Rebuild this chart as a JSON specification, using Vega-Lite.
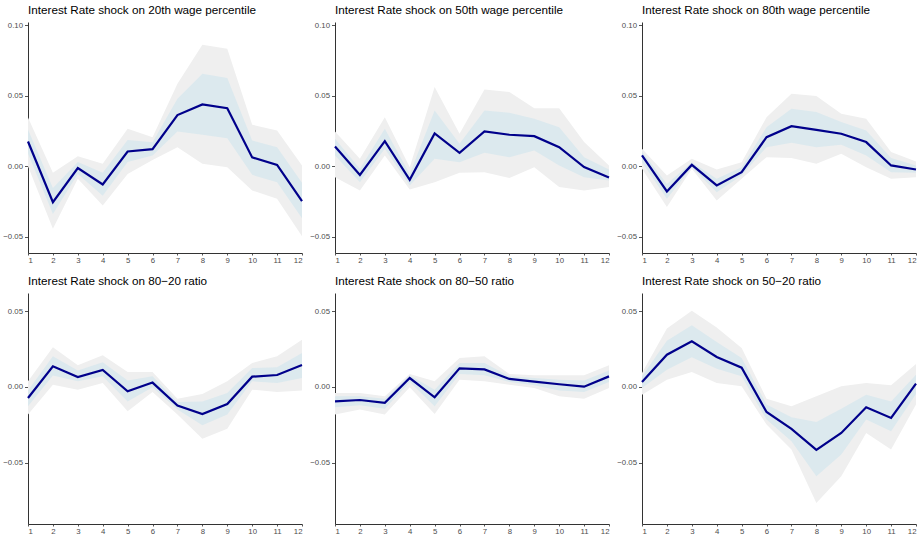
{
  "$schema": "https://vega.github.io/schema/vega-lite/v6.json",
  "background": "white",
  "padding": {"left": 2, "top": 5, "right": 0, "bottom": 0},
  "datasets": {
    "irf": [
      {"row": 1, "panel": "Interest Rate shock on 20th wage percentile", "h": 1, "irf": 0.0175, "lo_o": 0.0000, "hi_o": 0.0345, "lo_i": 0.0090, "hi_i": 0.0260},
      {"row": 1, "panel": "Interest Rate shock on 20th wage percentile", "h": 2, "irf": -0.0256, "lo_o": -0.0445, "hi_o": -0.0047, "lo_i": -0.0340, "hi_i": -0.0156},
      {"row": 1, "panel": "Interest Rate shock on 20th wage percentile", "h": 3, "irf": -0.0014, "lo_o": -0.0090, "hi_o": 0.0071, "lo_i": -0.0055, "hi_i": 0.0030},
      {"row": 1, "panel": "Interest Rate shock on 20th wage percentile", "h": 4, "irf": -0.0130, "lo_o": -0.0280, "hi_o": 0.0017, "lo_i": -0.0210, "hi_i": -0.0047},
      {"row": 1, "panel": "Interest Rate shock on 20th wage percentile", "h": 5, "irf": 0.0104, "lo_o": -0.0055, "hi_o": 0.0265, "lo_i": 0.0030, "hi_i": 0.0185},
      {"row": 1, "panel": "Interest Rate shock on 20th wage percentile", "h": 6, "irf": 0.0121, "lo_o": 0.0043, "hi_o": 0.0206, "lo_i": 0.0076, "hi_i": 0.0170},
      {"row": 1, "panel": "Interest Rate shock on 20th wage percentile", "h": 7, "irf": 0.0363, "lo_o": 0.0135, "hi_o": 0.0585, "lo_i": 0.0246, "hi_i": 0.0479},
      {"row": 1, "panel": "Interest Rate shock on 20th wage percentile", "h": 8, "irf": 0.0438, "lo_o": 0.0017, "hi_o": 0.0863, "lo_i": 0.0223, "hi_i": 0.0656},
      {"row": 1, "panel": "Interest Rate shock on 20th wage percentile", "h": 9, "irf": 0.0412, "lo_o": -0.0007, "hi_o": 0.0834, "lo_i": 0.0199, "hi_i": 0.0626},
      {"row": 1, "panel": "Interest Rate shock on 20th wage percentile", "h": 10, "irf": 0.0062, "lo_o": -0.0173, "hi_o": 0.0294, "lo_i": -0.0062, "hi_i": 0.0182},
      {"row": 1, "panel": "Interest Rate shock on 20th wage percentile", "h": 11, "irf": 0.0009, "lo_o": -0.0232, "hi_o": 0.0254, "lo_i": -0.0114, "hi_i": 0.0135},
      {"row": 1, "panel": "Interest Rate shock on 20th wage percentile", "h": 12, "irf": -0.0249, "lo_o": -0.0498, "hi_o": 0.0005, "lo_i": -0.0370, "hi_i": -0.0118},

      {"row": 1, "panel": "Interest Rate shock on 50th wage percentile", "h": 1, "irf": 0.0140, "lo_o": -0.0078, "hi_o": 0.0246, "lo_i": 0.0076, "hi_i": 0.0194},
      {"row": 1, "panel": "Interest Rate shock on 50th wage percentile", "h": 2, "irf": -0.0062, "lo_o": -0.0173, "hi_o": 0.0052, "lo_i": -0.0114, "hi_i": -0.0019},
      {"row": 1, "panel": "Interest Rate shock on 50th wage percentile", "h": 3, "irf": 0.0178, "lo_o": 0.0076, "hi_o": 0.0348, "lo_i": 0.0123, "hi_i": 0.0265},
      {"row": 1, "panel": "Interest Rate shock on 50th wage percentile", "h": 4, "irf": -0.0097, "lo_o": -0.0166, "hi_o": -0.0007, "lo_i": -0.0137, "hi_i": -0.0055},
      {"row": 1, "panel": "Interest Rate shock on 50th wage percentile", "h": 5, "irf": 0.0232, "lo_o": -0.0114, "hi_o": 0.0562, "lo_i": 0.0052, "hi_i": 0.0396},
      {"row": 1, "panel": "Interest Rate shock on 50th wage percentile", "h": 6, "irf": 0.0095, "lo_o": -0.0047, "hi_o": 0.0230, "lo_i": 0.0028, "hi_i": 0.0159},
      {"row": 1, "panel": "Interest Rate shock on 50th wage percentile", "h": 7, "irf": 0.0246, "lo_o": -0.0043, "hi_o": 0.0545, "lo_i": 0.0095, "hi_i": 0.0396},
      {"row": 1, "panel": "Interest Rate shock on 50th wage percentile", "h": 8, "irf": 0.0223, "lo_o": -0.0085, "hi_o": 0.0526, "lo_i": 0.0064, "hi_i": 0.0379},
      {"row": 1, "panel": "Interest Rate shock on 50th wage percentile", "h": 9, "irf": 0.0213, "lo_o": -0.0007, "hi_o": 0.0412, "lo_i": 0.0111, "hi_i": 0.0336},
      {"row": 1, "panel": "Interest Rate shock on 50th wage percentile", "h": 10, "irf": 0.0135, "lo_o": -0.0149, "hi_o": 0.0412, "lo_i": 0.0005, "hi_i": 0.0277},
      {"row": 1, "panel": "Interest Rate shock on 50th wage percentile", "h": 11, "irf": -0.0007, "lo_o": -0.0173, "hi_o": 0.0171, "lo_i": -0.0078, "hi_i": 0.0064},
      {"row": 1, "panel": "Interest Rate shock on 50th wage percentile", "h": 12, "irf": -0.0081, "lo_o": -0.0149, "hi_o": 0.0005, "lo_i": -0.0102, "hi_i": -0.0024},

      {"row": 1, "panel": "Interest Rate shock on 80th wage percentile", "h": 1, "irf": 0.0076, "lo_o": -0.0019, "hi_o": 0.0123, "lo_i": 0.0028, "hi_i": 0.0104},
      {"row": 1, "panel": "Interest Rate shock on 80th wage percentile", "h": 2, "irf": -0.0180, "lo_o": -0.0291, "hi_o": -0.0066, "lo_i": -0.0232, "hi_i": -0.0126},
      {"row": 1, "panel": "Interest Rate shock on 80th wage percentile", "h": 3, "irf": 0.0009, "lo_o": -0.0019, "hi_o": 0.0052, "lo_i": -0.0007, "hi_i": 0.0028},
      {"row": 1, "panel": "Interest Rate shock on 80th wage percentile", "h": 4, "irf": -0.0137, "lo_o": -0.0244, "hi_o": -0.0024, "lo_i": -0.0185, "hi_i": -0.0090},
      {"row": 1, "panel": "Interest Rate shock on 80th wage percentile", "h": 5, "irf": -0.0043, "lo_o": -0.0090, "hi_o": 0.0028, "lo_i": -0.0066, "hi_i": -0.0007},
      {"row": 1, "panel": "Interest Rate shock on 80th wage percentile", "h": 6, "irf": 0.0206, "lo_o": 0.0064, "hi_o": 0.0348, "lo_i": 0.0135, "hi_i": 0.0277},
      {"row": 1, "panel": "Interest Rate shock on 80th wage percentile", "h": 7, "irf": 0.0284, "lo_o": 0.0057, "hi_o": 0.0514, "lo_i": 0.0166, "hi_i": 0.0408},
      {"row": 1, "panel": "Interest Rate shock on 80th wage percentile", "h": 8, "irf": 0.0258, "lo_o": 0.0017, "hi_o": 0.0498, "lo_i": 0.0135, "hi_i": 0.0384},
      {"row": 1, "panel": "Interest Rate shock on 80th wage percentile", "h": 9, "irf": 0.0230, "lo_o": 0.0088, "hi_o": 0.0372, "lo_i": 0.0152, "hi_i": 0.0313},
      {"row": 1, "panel": "Interest Rate shock on 80th wage percentile", "h": 10, "irf": 0.0171, "lo_o": -0.0007, "hi_o": 0.0336, "lo_i": 0.0076, "hi_i": 0.0254},
      {"row": 1, "panel": "Interest Rate shock on 80th wage percentile", "h": 11, "irf": 0.0005, "lo_o": -0.0090, "hi_o": 0.0100, "lo_i": -0.0043, "hi_i": 0.0057},
      {"row": 1, "panel": "Interest Rate shock on 80th wage percentile", "h": 12, "irf": -0.0024, "lo_o": -0.0078, "hi_o": 0.0033, "lo_i": -0.0047, "hi_i": 0.0005},

      {"row": 2, "panel": "Interest Rate shock on 80−20 ratio", "h": 1, "irf": -0.0073, "lo_o": -0.0182, "hi_o": 0.0037, "lo_i": -0.0127, "hi_i": -0.0024},
      {"row": 2, "panel": "Interest Rate shock on 80−20 ratio", "h": 2, "irf": 0.0136, "lo_o": 0.0015, "hi_o": 0.0262, "lo_i": 0.0075, "hi_i": 0.0202},
      {"row": 2, "panel": "Interest Rate shock on 80−20 ratio", "h": 3, "irf": 0.0066, "lo_o": -0.0018, "hi_o": 0.0143, "lo_i": 0.0037, "hi_i": 0.0108},
      {"row": 2, "panel": "Interest Rate shock on 80−20 ratio", "h": 4, "irf": 0.0112, "lo_o": 0.0026, "hi_o": 0.0209, "lo_i": 0.0070, "hi_i": 0.0163},
      {"row": 2, "panel": "Interest Rate shock on 80−20 ratio", "h": 5, "irf": -0.0029, "lo_o": -0.0160, "hi_o": 0.0099, "lo_i": -0.0095, "hi_i": 0.0042},
      {"row": 2, "panel": "Interest Rate shock on 80−20 ratio", "h": 6, "irf": 0.0029, "lo_o": -0.0033, "hi_o": 0.0099, "lo_i": -0.0002, "hi_i": 0.0070},
      {"row": 2, "panel": "Interest Rate shock on 80−20 ratio", "h": 7, "irf": -0.0123, "lo_o": -0.0182, "hi_o": -0.0077, "lo_i": -0.0149, "hi_i": -0.0099},
      {"row": 2, "panel": "Interest Rate shock on 80−20 ratio", "h": 8, "irf": -0.0178, "lo_o": -0.0341, "hi_o": -0.0046, "lo_i": -0.0253, "hi_i": -0.0095},
      {"row": 2, "panel": "Interest Rate shock on 80−20 ratio", "h": 9, "irf": -0.0112, "lo_o": -0.0275, "hi_o": 0.0037, "lo_i": -0.0182, "hi_i": -0.0040},
      {"row": 2, "panel": "Interest Rate shock on 80−20 ratio", "h": 10, "irf": 0.0068, "lo_o": -0.0018, "hi_o": 0.0158, "lo_i": 0.0037, "hi_i": 0.0125},
      {"row": 2, "panel": "Interest Rate shock on 80−20 ratio", "h": 11, "irf": 0.0079, "lo_o": -0.0033, "hi_o": 0.0202, "lo_i": 0.0026, "hi_i": 0.0130},
      {"row": 2, "panel": "Interest Rate shock on 80−20 ratio", "h": 12, "irf": 0.0145, "lo_o": -0.0024, "hi_o": 0.0312, "lo_i": 0.0059, "hi_i": 0.0224},

      {"row": 2, "panel": "Interest Rate shock on 80−50 ratio", "h": 1, "irf": -0.0095, "lo_o": -0.0182, "hi_o": -0.0040, "lo_i": -0.0134, "hi_i": -0.0062},
      {"row": 2, "panel": "Interest Rate shock on 80−50 ratio", "h": 2, "irf": -0.0086, "lo_o": -0.0149, "hi_o": -0.0040, "lo_i": -0.0121, "hi_i": -0.0062},
      {"row": 2, "panel": "Interest Rate shock on 80−50 ratio", "h": 3, "irf": -0.0105, "lo_o": -0.0182, "hi_o": -0.0062, "lo_i": -0.0143, "hi_i": -0.0077},
      {"row": 2, "panel": "Interest Rate shock on 80−50 ratio", "h": 4, "irf": 0.0059, "lo_o": -0.0002, "hi_o": 0.0086, "lo_i": 0.0033, "hi_i": 0.0077},
      {"row": 2, "panel": "Interest Rate shock on 80−50 ratio", "h": 5, "irf": -0.0068, "lo_o": -0.0178, "hi_o": 0.0037, "lo_i": -0.0127, "hi_i": -0.0018},
      {"row": 2, "panel": "Interest Rate shock on 80−50 ratio", "h": 6, "irf": 0.0123, "lo_o": 0.0048, "hi_o": 0.0191, "lo_i": 0.0086, "hi_i": 0.0158},
      {"row": 2, "panel": "Interest Rate shock on 80−50 ratio", "h": 7, "irf": 0.0116, "lo_o": 0.0037, "hi_o": 0.0202, "lo_i": 0.0077, "hi_i": 0.0158},
      {"row": 2, "panel": "Interest Rate shock on 80−50 ratio", "h": 8, "irf": 0.0053, "lo_o": 0.0015, "hi_o": 0.0086, "lo_i": 0.0033, "hi_i": 0.0070},
      {"row": 2, "panel": "Interest Rate shock on 80−50 ratio", "h": 9, "irf": 0.0035, "lo_o": -0.0007, "hi_o": 0.0077, "lo_i": 0.0011, "hi_i": 0.0059},
      {"row": 2, "panel": "Interest Rate shock on 80−50 ratio", "h": 10, "irf": 0.0018, "lo_o": -0.0062, "hi_o": 0.0077, "lo_i": -0.0024, "hi_i": 0.0048},
      {"row": 2, "panel": "Interest Rate shock on 80−50 ratio", "h": 11, "irf": 0.0002, "lo_o": -0.0077, "hi_o": 0.0077, "lo_i": -0.0033, "hi_i": 0.0042},
      {"row": 2, "panel": "Interest Rate shock on 80−50 ratio", "h": 12, "irf": 0.0070, "lo_o": -0.0007, "hi_o": 0.0143, "lo_i": 0.0033, "hi_i": 0.0108},

      {"row": 2, "panel": "Interest Rate shock on 50−20 ratio", "h": 1, "irf": 0.0033, "lo_o": -0.0051, "hi_o": 0.0092, "lo_i": -0.0007, "hi_i": 0.0070},
      {"row": 2, "panel": "Interest Rate shock on 50−20 ratio", "h": 2, "irf": 0.0213, "lo_o": 0.0048, "hi_o": 0.0385, "lo_i": 0.0114, "hi_i": 0.0305},
      {"row": 2, "panel": "Interest Rate shock on 50−20 ratio", "h": 3, "irf": 0.0301, "lo_o": 0.0099, "hi_o": 0.0503, "lo_i": 0.0196, "hi_i": 0.0407},
      {"row": 2, "panel": "Interest Rate shock on 50−20 ratio", "h": 4, "irf": 0.0198, "lo_o": 0.0026, "hi_o": 0.0393, "lo_i": 0.0121, "hi_i": 0.0297},
      {"row": 2, "panel": "Interest Rate shock on 50−20 ratio", "h": 5, "irf": 0.0127, "lo_o": 0.0004, "hi_o": 0.0257, "lo_i": 0.0070, "hi_i": 0.0191},
      {"row": 2, "panel": "Interest Rate shock on 50−20 ratio", "h": 6, "irf": -0.0165, "lo_o": -0.0248, "hi_o": -0.0077, "lo_i": -0.0215, "hi_i": -0.0116},
      {"row": 2, "panel": "Interest Rate shock on 50−20 ratio", "h": 7, "irf": -0.0277, "lo_o": -0.0413, "hi_o": -0.0127, "lo_i": -0.0358, "hi_i": -0.0200},
      {"row": 2, "panel": "Interest Rate shock on 50−20 ratio", "h": 8, "irf": -0.0415, "lo_o": -0.0765, "hi_o": -0.0062, "lo_i": -0.0589, "hi_i": -0.0231},
      {"row": 2, "panel": "Interest Rate shock on 50−20 ratio", "h": 9, "irf": -0.0303, "lo_o": -0.0589, "hi_o": 0.0004, "lo_i": -0.0446, "hi_i": -0.0143},
      {"row": 2, "panel": "Interest Rate shock on 50−20 ratio", "h": 10, "irf": -0.0134, "lo_o": -0.0303, "hi_o": 0.0026, "lo_i": -0.0215, "hi_i": -0.0051},
      {"row": 2, "panel": "Interest Rate shock on 50−20 ratio", "h": 11, "irf": -0.0204, "lo_o": -0.0413, "hi_o": 0.0011, "lo_i": -0.0292, "hi_i": -0.0095},
      {"row": 2, "panel": "Interest Rate shock on 50−20 ratio", "h": 12, "irf": 0.0022, "lo_o": -0.0116, "hi_o": 0.0152, "lo_i": -0.0046, "hi_i": 0.0081}
    ]
  },
  "data": {"name": "irf"},
  "spacing": 12,
  "vconcat": [
    {
      "transform": [{"filter": "datum.row == 1"}],
      "bounds": "flush",
      "spacing": {"column": 33},
      "facet": {
        "column": {
          "field": "panel", "type": "nominal", "title": null,
          "sort": ["Interest Rate shock on 20th wage percentile", "Interest Rate shock on 50th wage percentile", "Interest Rate shock on 80th wage percentile"],
          "header": {"labelAnchor": "start", "labelFontSize": 11.7, "labelFont": "Liberation Sans", "labelColor": "#000000", "labelPadding": 5}
        }
      },
      "spec": {
        "width": 274,
        "height": 231,
        "encoding": {
          "x": {"field": "h", "type": "quantitative", "title": null,
                "scale": {"domain": [1, 12], "nice": false, "zero": false},
                "axis": {"values": [1, 2, 3, 4, 5, 6, 7, 8, 9, 10, 11, 12], "format": "d"}}
        },
        "layer": [
          {"mark": {"type": "area", "color": "#efefef", "opacity": 1},
           "encoding": {"y": {"field": "lo_o", "type": "quantitative", "title": null,
                              "scale": {"domain": [-0.0617, 0.1024], "nice": false, "zero": false},
                              "axis": {"values": [-0.05, 0, 0.05, 0.1], "format": ".2f"}},
                        "y2": {"field": "hi_o"}}},
          {"mark": {"type": "area", "color": "#dce9ee", "opacity": 1},
           "encoding": {"y": {"field": "lo_i", "type": "quantitative"}, "y2": {"field": "hi_i"}}},
          {"mark": {"type": "rule", "color": "#333333", "strokeWidth": 1},
           "encoding": {"y": {"datum": 0}}},
          {"mark": {"type": "line", "color": "#00008b", "strokeWidth": 2.2},
           "encoding": {"y": {"field": "irf", "type": "quantitative"}}}
        ]
      },
      "resolve": {"axis": {"y": "independent", "x": "independent"}}
    },
    {
      "transform": [{"filter": "datum.row == 2"}],
      "bounds": "flush",
      "spacing": {"column": 33},
      "facet": {
        "column": {
          "field": "panel", "type": "nominal", "title": null,
          "sort": ["Interest Rate shock on 80−20 ratio", "Interest Rate shock on 80−50 ratio", "Interest Rate shock on 50−20 ratio"],
          "header": {"labelAnchor": "start", "labelFontSize": 11.7, "labelFont": "Liberation Sans", "labelColor": "#000000", "labelPadding": 5}
        }
      },
      "spec": {
        "width": 274,
        "height": 231,
        "encoding": {
          "x": {"field": "h", "type": "quantitative", "title": null,
                "scale": {"domain": [1, 12], "nice": false, "zero": false},
                "axis": {"values": [1, 2, 3, 4, 5, 6, 7, 8, 9, 10, 11, 12], "format": "d"}}
        },
        "layer": [
          {"mark": {"type": "area", "color": "#efefef", "opacity": 1},
           "encoding": {"y": {"field": "lo_o", "type": "quantitative", "title": null,
                              "scale": {"domain": [-0.0904, 0.062], "nice": false, "zero": false},
                              "axis": {"values": [-0.05, 0, 0.05], "format": ".2f"}},
                        "y2": {"field": "hi_o"}}},
          {"mark": {"type": "area", "color": "#dce9ee", "opacity": 1},
           "encoding": {"y": {"field": "lo_i", "type": "quantitative"}, "y2": {"field": "hi_i"}}},
          {"mark": {"type": "rule", "color": "#333333", "strokeWidth": 1},
           "encoding": {"y": {"datum": 0}}},
          {"mark": {"type": "line", "color": "#00008b", "strokeWidth": 2.2},
           "encoding": {"y": {"field": "irf", "type": "quantitative"}}}
        ]
      },
      "resolve": {"axis": {"y": "independent", "x": "independent"}}
    }
  ],
  "config": {
    "view": {"stroke": null},
    "axis": {
      "grid": false,
      "domainColor": "#333333",
      "domainWidth": 1,
      "tickColor": "#555555",
      "tickSize": 3,
      "labelColor": "#4d4d4d",
      "labelFont": "Liberation Sans",
      "labelFontSize": 7.8,
      "labelPadding": 2
    },
    "axisX": {"tickSize": 2, "labelPadding": 1},
    "axisY": {"tickSize": 3.5, "labelPadding": 2}
  }
}
